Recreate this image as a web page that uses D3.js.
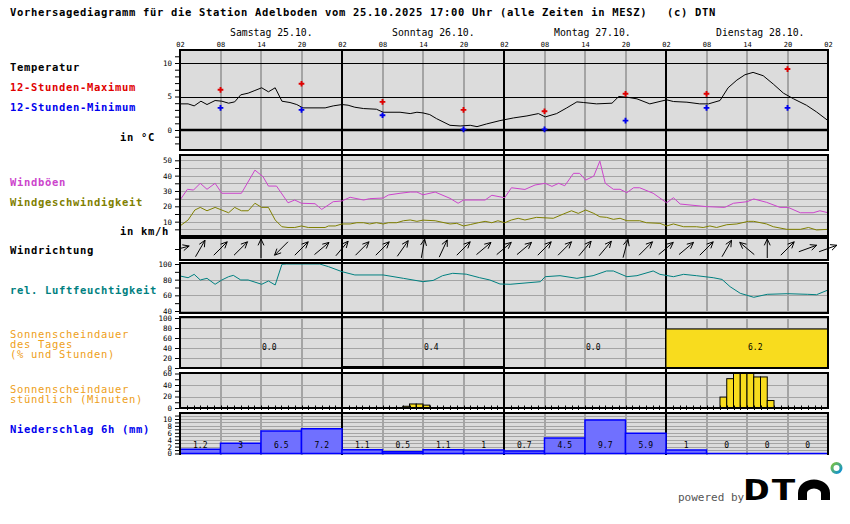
<!DOCTYPE html>
<html>
<head>
<meta charset="utf-8">
<script src="https://cdn.jsdelivr.net/npm/d3@7"></script>
<style>
body { margin: 0; background: #fff; }
svg text { font-family: "DejaVu Sans Mono", monospace; }
</style>
</head>
<body>
<svg id="chart" width="850" height="524"></svg>
<script>
// ---- data (hours counted from Sa 25.10. 02:00) ----
var dayLabels = ["Samstag 25.10.", "Sonntag 26.10.", "Montag 27.10.", "Dienstag 28.10."];

var tempHours = [0, 1.2, 2.1, 3.1, 4, 5.2, 6.2, 7.2, 8.1, 9, 10.1, 11.1, 12.1, 13.1, 14.1, 15.1, 16.3, 17.3, 18.2, 21.5, 22.7, 24, 24.9, 25.9, 27.2, 29.1, 30.1, 32.6, 34.1, 35.1, 36, 37, 38, 40, 41.5, 43, 44, 45.4, 47.4, 49.4, 51.4, 53.1, 54.1, 55.8, 57.3, 58.8, 59.8, 61.7, 64, 65, 66.2, 67.7, 69.6, 72.1, 73.1, 75.1, 77, 78.3, 80, 81.2, 82.5, 83.7, 84.9, 86.4, 87.9, 89.4, 90.9, 92.8, 94.3, 96];
var tempValues = [3.9, 3.9, 3.6, 4.3, 3.8, 4.4, 4.3, 4.0, 4.2, 5.25, 5.5, 5.9, 6.3, 5.7, 6.3, 4.3, 4.1, 3.8, 3.3, 3.3, 3.6, 3.8, 3.7, 3.4, 3.2, 3.1, 2.65, 2.65, 2.45, 2.65, 2.55, 2.3, 1.7, 0.7, 0.6, 0.7, 0.5, 0.9, 1.4, 1.8, 2.1, 2.45, 1.95, 2.45, 3.3, 4.2, 4.1, 3.9, 4.0, 5.0, 4.9, 4.65, 3.9, 4.5, 4.25, 4.15, 3.9, 3.9, 4.4, 6.3, 7.45, 8.25, 8.6, 8.1, 6.85, 5.5, 4.65, 3.7, 2.7, 1.4];

var extremeHours = [6, 18, 30, 42, 54, 66, 78, 90];
var tempMax = [6.0, 6.9, 4.2, 3.0, 2.8, 5.4, 5.4, 9.1];
var tempMin = [3.3, 3.0, 2.2, 0.1, 0.1, 1.4, 3.3, 3.3];

var gustHours = [0, 1.1, 2, 3, 4, 5.2, 6.2, 9.1, 11.1, 12.3, 13.1, 14.3, 16, 17, 18, 20, 21, 22.7, 24, 25.2, 27.2, 28.1, 30.1, 30.9, 32.6, 34.1, 35.1, 36, 37.8, 40, 41.2, 42, 45.2, 46.2, 48.1, 49.1, 51.1, 52.6, 54.1, 55.1, 56.1, 57, 58.3, 59.2, 60.1, 61.3, 62.2, 63, 64.2, 65.2, 66.2, 67.2, 68.1, 70.1, 72.1, 73.1, 74.1, 78, 80.7, 82, 84, 85, 86.9, 88.9, 90.1, 91.9, 93.8, 94.8, 96];
var gustValues = [24.1, 31.1, 30.6, 35, 31.1, 35, 28.5, 28.5, 43.6, 39.3, 33.2, 33.2, 22.3, 24.1, 22, 21.7, 18, 23, 23.5, 25.9, 24.1, 25, 25.4, 27.4, 28.5, 29.3, 29.3, 27.5, 29.3, 25.2, 22, 24.1, 24.1, 27.2, 25.6, 32.1, 31, 33.9, 35, 33, 35, 33.4, 41.5, 41.5, 37.1, 39.7, 49.5, 35, 31.1, 31.1, 28.9, 32.1, 32.1, 28.5, 22.3, 25.6, 21.5, 19.8, 19.3, 22, 23, 24.8, 22.6, 19.3, 19.3, 15.8, 15.8, 17.1, 15.8];

var speedHours = [0, 1.2, 2.2, 3, 4, 5.2, 7.2, 8.1, 9.1, 10.1, 11.1, 12.1, 13.1, 14.1, 15.1, 16, 17, 18, 19, 21.5, 22, 23, 24, 25.2, 26.2, 27.2, 28.1, 29.1, 30.1, 30.9, 32.1, 33.1, 34.1, 35.1, 36, 37.8, 40, 41, 42, 43, 44.2, 45.2, 46.2, 47.1, 48.1, 49.1, 50.1, 51.1, 52.8, 55.3, 56.8, 58, 59, 60.1, 61.3, 62.2, 63.2, 64.2, 65.2, 66.2, 68.1, 69.1, 71.1, 72.1, 73.1, 74.6, 76.5, 77.5, 78.5, 79.5, 81, 82.5, 84.2, 85, 86.9, 87.9, 89.9, 91.9, 93.1, 94.3, 96];
var speedValues = [7.2, 11.1, 17.6, 19.3, 17.1, 19.3, 15.8, 19.3, 17.1, 17.1, 22, 19.3, 19.3, 11.1, 6.7, 6.2, 6.2, 7.2, 6.2, 6.2, 7.2, 7.2, 8.5, 8.5, 9.3, 9.3, 8.5, 9.3, 8.5, 9.3, 9.3, 10.6, 11.1, 10.2, 11, 10.6, 8.5, 8.9, 7.2, 8.1, 9.3, 10.2, 9.3, 10.6, 9.3, 11.1, 12.2, 11.1, 12.8, 12.2, 15, 17.1, 15.4, 17.6, 15.4, 13.2, 12.8, 11.5, 12.2, 10.6, 10.6, 9.3, 8.9, 7.2, 8.5, 6.7, 6.7, 6.2, 7.2, 6.2, 8, 8.5, 10.2, 10.2, 8.5, 6.7, 5, 5, 6.2, 4.6, 5];

// arrow heading in degrees (0 = up), one per 3 hours
var windDir = [75, 30, 45, 45, 0, 225, 45, 50, 40, 45, 45, 35, 10, 25, 45, 50, 50, 50, 45, 45, 40, 40, 15, 45, 50, 50, 45, 30, 310, 0, 45, 70, 70];

var humHours = [0, 1.2, 2.1, 3, 4, 5.2, 6.2, 7.2, 7.9, 9, 10.1, 12.1, 13.1, 14.1, 15.1, 15.8, 20.7, 22, 24, 25.9, 30.1, 33.1, 36, 37.5, 38.9, 40.4, 42.4, 44.4, 45.9, 47.4, 48.9, 53.4, 54.1, 56.3, 58.8, 61.2, 63.2, 64.2, 66.2, 67.7, 70.1, 71.1, 73.1, 74.6, 76.5, 79, 80.3, 81.5, 83, 85, 87, 90, 93, 94.3, 96];
var humValues = [84.7, 82.5, 86.8, 79.6, 81.7, 74.1, 79.6, 83.8, 85.5, 79.6, 79.6, 74.1, 78.3, 73.2, 99.6, 100, 100, 96.6, 90.2, 86, 86, 81.7, 77.4, 79, 85.1, 88.1, 87, 82.5, 79.6, 74.5, 74.1, 77.4, 83.8, 85.1, 81.7, 85.1, 91.1, 91.1, 83.8, 85.1, 91.1, 86.8, 83.8, 86.8, 85.1, 82.5, 80.3, 71, 62.6, 57.5, 61.3, 62.1, 61.3, 60.8, 66.8];

var sunDayPct = [0, 3, 0, 78];
var sunDayText = ["0.0", "0.4", "0.0", "6.2"];

var sunHourStart = [33, 34, 35, 36, 80, 81, 82, 83, 84, 85, 86, 87];
var sunHourMin = [3, 7, 7, 5, 19, 51, 60, 60, 60, 54, 54, 13];

var rainValues = [1.2, 3, 6.5, 7.2, 1.1, 0.5, 1.1, 1, 0.7, 4.5, 9.7, 5.9, 1, 0, 0, 0];

// ---- layout ----
var svg = d3.select("#chart"),
    X0 = 180, X1 = 828,
    x = d3.scaleLinear().domain([0, 96]).range([X0, X1]),
    bold = { size: 10.5, spacing: 0.68 };

var yT = d3.scaleLinear().domain([0, 10]).range([130, 63]),
    yW = d3.scaleLinear().domain([0, 50]).range([237, 160.3]),
    yH = d3.scaleLinear().domain([40, 100]).range([311, 264]),
    yD = d3.scaleLinear().domain([0, 100]).range([368, 318]),
    yM = d3.scaleLinear().domain([0, 60]).range([408, 373.5]),
    yR = d3.scaleLinear().domain([0, 10]).range([453.5, 419]);

var panels = [
    { top: 50, bottom: 150, scale: yT, grid: [] },
    { top: 155, bottom: 236, scale: yW, grid: d3.range(5, 55, 5) },
    { top: 238, bottom: 260, scale: null, grid: [] },
    { top: 263, bottom: 313, scale: yH, grid: [40, 60, 80] },
    { top: 317, bottom: 368, scale: yD, grid: [20, 40, 60, 80, 100] },
    { top: 373, bottom: 408, scale: yM, grid: [20, 40] },
    { top: 413, bottom: 455, scale: yR, grid: d3.range(1, 12), open: true }
];

function px(h) { return Math.round(x(h)); }

panels.forEach(function(p) {
    svg.append("rect")
        .attr("x", X0).attr("y", p.top)
        .attr("width", X1 - X0).attr("height", p.bottom - p.top)
        .attr("fill", "#dcdcdc");
    p.grid.forEach(function(v) {
        var yy = Math.round(p.scale(v)) + 0.5;
        svg.append("line")
            .attr("x1", X0).attr("x2", X1).attr("y1", yy).attr("y2", yy)
            .attr("stroke", "#a4a4a4").attr("stroke-width", 1);
    });
    d3.range(6, 96, 6).filter(function(h) { return h % 24 != 0; }).forEach(function(h) {
        svg.append("line")
            .attr("x1", px(h)).attr("x2", px(h)).attr("y1", p.top).attr("y2", p.bottom)
            .attr("stroke", "#a4a4a4").attr("stroke-width", 2);
    });
});

// temperature reference lines
[5, 10].forEach(function(v) {
    var yy = Math.round(yT(v)) + 0.5;
    svg.append("line").attr("x1", X0).attr("x2", X1).attr("y1", yy).attr("y2", yy)
        .attr("stroke", "#000").attr("stroke-width", 1);
});
svg.append("line").attr("x1", X0).attr("x2", X1).attr("y1", yT(0)).attr("y2", yT(0))
    .attr("stroke", "#000").attr("stroke-width", 2.5);
svg.append("line").attr("x1", X0).attr("x2", X1).attr("y1", yM(0)).attr("y2", yM(0))
    .attr("stroke", "#000").attr("stroke-width", 2);

// day boundaries
[24, 48, 72].forEach(function(h) {
    svg.append("line").attr("x1", px(h)).attr("x2", px(h)).attr("y1", 50).attr("y2", 455)
        .attr("stroke", "#000").attr("stroke-width", 2);
});

// ---- temperature ----
svg.append("path")
    .datum(d3.zip(tempHours, tempValues))
    .attr("d", d3.line().x(function(d) { return x(d[0]); }).y(function(d) { return yT(d[1]); }))
    .attr("fill", "none").attr("stroke", "#000").attr("stroke-width", 1);

var cross = d3.symbol().type(d3.symbolCross).size(18);
[[tempMax, "#e00000"], [tempMin, "#0000ee"]].forEach(function(s) {
    svg.selectAll(null).data(d3.zip(extremeHours, s[0])).enter().append("path")
        .attr("d", cross)
        .attr("transform", function(d) { return "translate(" + x(d[0]) + "," + yT(d[1]) + ")"; })
        .attr("fill", s[1]);
});

// ---- wind ----
[[gustHours, gustValues, "#cc44cc"], [speedHours, speedValues, "#808000"]].forEach(function(s) {
    svg.append("path")
        .datum(d3.zip(s[0], s[1]))
        .attr("d", d3.line().x(function(d) { return x(d[0]); }).y(function(d) { return yW(d[1]); }))
        .attr("fill", "none").attr("stroke", s[2]).attr("stroke-width", 1);
});

// ---- wind direction ----
svg.append("clipPath").attr("id", "dirclip").append("rect")
    .attr("x", X0).attr("y", 236).attr("width", 850 - X0).attr("height", 26);
var arrows = svg.append("g").attr("clip-path", "url(#dirclip)")
    .attr("stroke", "#000").attr("stroke-width", 1).attr("fill", "none");
windDir.forEach(function(a, i) {
    var cx = x(i * 3), cy = 248.5, L = 19, hl = 7, hw = 25 * Math.PI / 180,
        r = a * Math.PI / 180, dx = Math.sin(r), dy = -Math.cos(r),
        tx = cx + dx * L / 2, ty = cy + dy * L / 2;
    var d = "M" + (cx - dx * L / 2) + "," + (cy - dy * L / 2) + "L" + tx + "," + ty;
    [-hw, hw].forEach(function(t) {
        var bx = -dx * Math.cos(t) + dy * Math.sin(t),
            by = -dx * Math.sin(t) - dy * Math.cos(t);
        d += "M" + tx + "," + ty + "L" + (tx + bx * hl) + "," + (ty + by * hl);
    });
    arrows.append("path").attr("d", d);
});

// ---- humidity ----
svg.append("path")
    .datum(d3.zip(humHours, humValues))
    .attr("d", d3.line().x(function(d) { return x(d[0]); }).y(function(d) { return yH(d[1]); }))
    .attr("fill", "none").attr("stroke", "#008080").attr("stroke-width", 1);

// ---- sunshine per day ----
sunDayPct.forEach(function(v, i) {
    if (v > 0) {
        svg.append("rect")
            .attr("x", x(i * 24)).attr("y", yD(v))
            .attr("width", x(24) - x(0)).attr("height", yD(0) - yD(v))
            .attr("fill", "#f8dc1e").attr("stroke", "#000").attr("stroke-width", 1);
    }
    svg.append("text")
        .attr("x", x(i * 24 + 12) + 1).attr("y", 350)
        .attr("font-size", 8).text(sunDayText[i]);
});

// ---- sunshine per hour ----
sunHourStart.forEach(function(h, i) {
    svg.append("rect")
        .attr("x", x(h)).attr("y", yM(sunHourMin[i]))
        .attr("width", x(1) - x(0)).attr("height", yM(0) - yM(sunHourMin[i]))
        .attr("fill", "#f8dc1e").attr("stroke", "#000").attr("stroke-width", 1);
});
d3.range(1, 96).forEach(function(h) {
    svg.append("line").attr("x1", px(h) + 0.5).attr("x2", px(h) + 0.5)
        .attr("y1", yM(0) - 2.5).attr("y2", yM(0) + 2)
        .attr("stroke", "#000").attr("stroke-width", 1);
});

// ---- precipitation ----
rainValues.forEach(function(v, i) {
    var x0 = x(i * 6), x1 = x(i * 6 + 6), y0 = yR(0), y1 = yR(v);
    svg.append("path")
        .attr("d", "M" + x0 + "," + y0 + "V" + y1 + "H" + x1 + "V" + y0 + "Z")
        .attr("fill", "#7070ff").attr("stroke", "#0000ff").attr("stroke-width", 1.5);
    svg.append("text")
        .attr("x", x(i * 6 + 3)).attr("y", 447.5)
        .attr("text-anchor", "middle").attr("font-size", 8).text(String(v));
});

// ---- panel borders ----
panels.forEach(function(p) {
    if (p.open) {
        svg.append("path")
            .attr("d", "M" + X0 + "," + p.bottom + "V" + p.top + "H" + X1 + "V" + p.bottom)
            .attr("fill", "none").attr("stroke", "#000").attr("stroke-width", 2);
    } else {
        svg.append("rect")
            .attr("x", X0).attr("y", p.top)
            .attr("width", X1 - X0).attr("height", p.bottom - p.top)
            .attr("fill", "none").attr("stroke", "#000").attr("stroke-width", 2);
    }
});

// ---- axes ----
function yAxis(scale, ticks, labels) {
    var g = svg.append("g")
        .attr("transform", "translate(" + X0 + ",0)")
        .call(d3.axisLeft(scale).tickValues(ticks).tickSize(5).tickPadding(3)
            .tickFormat(function(d) { return labels.indexOf(d) != -1 ? d : ""; }));
    g.select(".domain").remove();
    g.selectAll("text").attr("font-family", '"DejaVu Sans Mono", monospace').attr("font-size", 7.5);
}
yAxis(yT, d3.range(-2, 12), [0, 5, 10]);
yAxis(yW, d3.range(5, 55, 5), [10, 20, 30, 40, 50]);
yAxis(yH, d3.range(40, 110, 10), [40, 60, 80, 100]);
yAxis(yD, d3.range(0, 120, 20), [0, 20, 40, 60, 80, 100]);
yAxis(yM, d3.range(0, 70, 10), [0, 20, 40, 60]);
yAxis(yR, d3.range(0, 12), [0, 2, 4, 6, 8, 10]);
svg.append("line").attr("x1", X0 - 5).attr("x2", X0).attr("y1", 249.5).attr("y2", 249.5)
    .attr("stroke", "#000");

var timeAxis = svg.append("g").attr("transform", "translate(0,50)")
    .call(d3.axisTop(x).tickValues(d3.range(0, 97, 6)).tickSize(0).tickPadding(3)
        .tickFormat(function(h) { return d3.format("02d")((h + 2) % 24); }));
timeAxis.select(".domain").remove();
timeAxis.selectAll("text").attr("font-family", '"DejaVu Sans Mono", monospace').attr("font-size", 7);

dayLabels.forEach(function(t, i) {
    svg.append("text").attr("x", x(i * 24 + 12) - 31).attr("y", 36)
        .attr("font-size", 9.8).text(t);
});

// ---- texts ----
function label(t, xx, yy, color, weight, anchor) {
    svg.append("text")
        .attr("x", xx).attr("y", yy)
        .attr("fill", color)
        .attr("font-size", bold.size)
        .attr("letter-spacing", bold.spacing)
        .attr("font-weight", weight || "bold")
        .attr("text-anchor", anchor || "start")
        .style("white-space", "pre")
        .text(t);
}
label("Vorhersagediagramm für die Station Adelboden vom 25.10.2025 17:00 Uhr (alle Zeiten in MESZ)", 10, 15.5, "#000");
label("(c) DTN", 667, 15.5, "#000");
label("Temperatur", 10, 71, "#000");
label("12-Stunden-Maximum", 10, 91, "#e00000");
label("12-Stunden-Minimum", 10, 111, "#0000ee");
label("in °C", 155, 141, "#000", "bold", "end");
label("Windböen", 10, 186, "#cc44cc");
label("Windgeschwindigkeit", 10, 206, "#808000");
label("in km/h", 169, 235, "#000", "bold", "end");
label("Windrichtung", 10, 254, "#000");
label("rel. Luftfeuchtigkeit", 10, 294, "#008080");
label("Sonnenscheindauer", 10, 338, "#eea020", "normal");
label("des Tages", 10, 348, "#eea020", "normal");
label("(% und Stunden)", 10, 358, "#eea020", "normal");
label("Sonnenscheindauer", 10, 393, "#eea020", "normal");
label("stündlich (Minuten)", 10, 403, "#eea020", "normal");
label("Niederschlag 6h (mm)", 10, 433, "#0000ee");

// ---- logo ----
svg.append("text").attr("x", 678).attr("y", 501)
    .attr("font-family", '"DejaVu Sans", sans-serif').attr("font-size", 11)
    .attr("fill", "#555").text("powered by");
svg.append("text").attr("x", 743).attr("y", 500)
    .attr("font-family", '"DejaVu Sans", sans-serif').attr("font-size", 27.5).attr("font-weight", "bold")
    .attr("textLength", 54).attr("lengthAdjust", "spacingAndGlyphs")
    .attr("fill", "#000").text("DT");
// lower-case n of the logo, drawn as a thick arch
svg.append("path")
    .attr("d", "M802.5,500V493A11.5,9 0 0 1 825.5,493V500")
    .attr("fill", "none").attr("stroke", "#000").attr("stroke-width", 9);
var grad = svg.append("defs").append("linearGradient").attr("id", "ring")
    .attr("x1", 0).attr("y1", 0).attr("x2", 1).attr("y2", 1);
grad.append("stop").attr("offset", 0).attr("stop-color", "#7cc242");
grad.append("stop").attr("offset", 1).attr("stop-color", "#0a8fd8");
svg.append("circle").attr("cx", 836.5).attr("cy", 468).attr("r", 4.5)
    .attr("fill", "none").attr("stroke", "url(#ring)").attr("stroke-width", 3);
</script>
</body>
</html>
